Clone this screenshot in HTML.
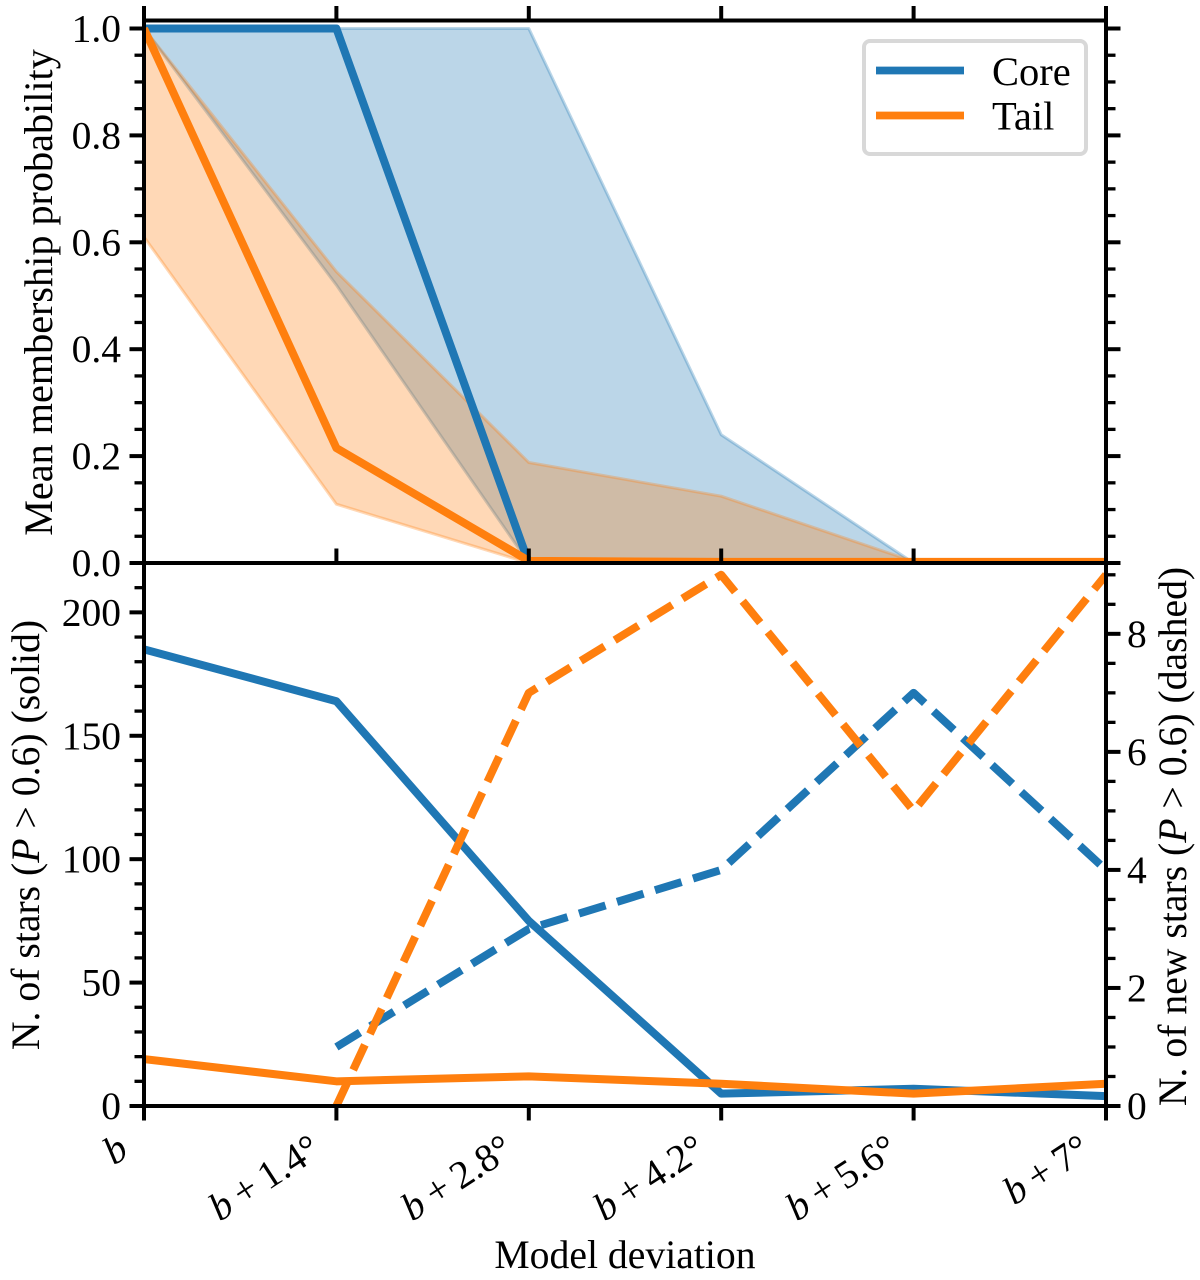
<!DOCTYPE html>
<html lang="en">
<head>
<meta charset="utf-8">
<title>Mean membership probability and number of stars vs model deviation</title>
<style>
  html, body { margin: 0; padding: 0; background: #fff; }
  svg { display: block; font-family: "Liberation Serif", "DejaVu Serif", serif; fill: #000; }
  .tick-label { font-size: 39.5px; }
  .axis-title { font-size: 39.7px; }
  .top-title { font-size: 40.2px; }
  .legend-label { font-size: 40.5px; }
</style>
</head>
<body>
<svg id="chart" xmlns="http://www.w3.org/2000/svg" width="1200" height="1280" viewBox="0 0 1200 1280">
  <defs>
    <clipPath id="clip-top"><rect x="144" y="20.5" width="962" height="542.5"/></clipPath>
    <clipPath id="clip-bottom"><rect x="144" y="563" width="962" height="543"/></clipPath>
  </defs>
  <rect x="0" y="0" width="1200" height="1280" fill="#fff"/>
  <g id="top-marks" clip-path="url(#clip-top)"></g>
  <g id="bottom-marks" clip-path="url(#clip-bottom)"></g>
  <g id="axes"></g>
  <g id="labels"></g>

  <text class="top-title" transform="translate(52 292.5) rotate(-90)" text-anchor="middle">Mean membership probability</text>
  <text class="axis-title" transform="translate(39 835) rotate(-90)" text-anchor="middle">N. of stars (<tspan font-style="italic">P</tspan> &gt; 0.6) (solid)</text>
  <text class="axis-title" transform="translate(1186 836.5) rotate(-90)" text-anchor="middle">N. of new stars (<tspan font-style="italic">P</tspan> &gt; 0.6) (dashed)</text>
  <text class="axis-title" x="625" y="1268" text-anchor="middle">Model deviation</text>

  <g>
    <rect x="864" y="41" width="222" height="113" rx="6" ry="6" fill="#fff" fill-opacity="0.85" stroke="#d8d8d8" stroke-width="4"/>
    <line x1="876" x2="964" y1="70.5" y2="70.5" stroke="#1f77b4" stroke-width="7.8"/>
    <text class="legend-label" x="992" y="85">Core</text>
    <line x1="876" x2="964" y1="115.5" y2="115.5" stroke="#ff7f0e" stroke-width="7.8"/>
    <text class="legend-label" x="992" y="129.5">Tail</text>
  </g>
</svg>
<script>
// ---- data ----
const categories = ['b', 'b+1.4', 'b+2.8', 'b+4.2', 'b+5.6', 'b+7'];
const xTickOffsets = ['', '1.4', '2.8', '4.2', '5.6', '7'];

const coreMean  = [1.0, 1.0, 0.0, 0.0, 0.0, 0.0];
const coreUpper = [1.0, 1.0, 1.0, 0.24, 0.0, 0.0];
const coreLower = [1.0, 0.52, 0.0, 0.0, 0.0, 0.0];
const tailMean  = [1.0, 0.215, 0.004, 0.002, 0.002, 0.002];
const tailUpper = [1.0, 0.545, 0.188, 0.125, 0.003, 0.002];
const tailLower = [0.61, 0.11, 0.0, 0.0, 0.0, 0.0];

const coreStars = [185, 164, 75, 5, 7, 4];
const tailStars = [19, 10, 12, 9, 5, 9];
const coreNewStars = [null, 1, 3, 4, 7, 4];
const tailNewStars = [null, 0, 7, 9, 5, 9];

const topTickLabels = ['0.0', '0.2', '0.4', '0.6', '0.8', '1.0'];
const leftTickLabels = ['0', '50', '100', '150', '200'];
const rightTickLabels = ['0', '2', '4', '6', '8'];

// ---- axis functions ----
const frame = { left: 144, right: 1106, top: 20.5, mid: 563, bottom: 1106 };
const BLUE = '#1f77b4';
const ORANGE = '#ff7f0e';
const SVG_NS = 'http://www.w3.org/2000/svg';

function xAxis(i) { return frame.left + i * (frame.right - frame.left) / (categories.length - 1); }
function yProb(v) { return frame.mid - v * 534.5; }
function yStars(v) { return frame.bottom - v * (frame.bottom - frame.mid) / 220; }
function yNew(v) { return frame.bottom - v * (frame.bottom - frame.mid) / 9.2; }

function make(tag, attrs, parent) {
  const el = document.createElementNS(SVG_NS, tag);
  for (const k in attrs) el.setAttribute(k, attrs[k]);
  parent.appendChild(el);
  return el;
}

function linePoints(values, yScale) {
  const pts = [];
  values.forEach(function (v, i) {
    if (v !== null) pts.push(xAxis(i).toFixed(2) + ',' + yScale(v).toFixed(2));
  });
  return pts.join(' ');
}

function drawBand(upper, lower, color, name) {
  const top = [];
  const bottom = [];
  upper.forEach(function (v, i) { top.push(xAxis(i).toFixed(2) + ',' + yProb(v).toFixed(2)); });
  lower.forEach(function (v, i) { bottom.unshift(xAxis(i).toFixed(2) + ',' + yProb(v).toFixed(2)); });
  const el = make('polygon', {
    points: top.concat(bottom).join(' '),
    fill: color, 'fill-opacity': 0.3,
    stroke: color, 'stroke-opacity': 0.3, 'stroke-width': 3, 'stroke-linejoin': 'round'
  }, document.getElementById('top-marks'));
  
  
}

function drawSeries(parentId, values, yScale, color, name, dashed) {
  const attrs = {
    points: linePoints(values, yScale),
    fill: 'none', stroke: color, 'stroke-width': 8, 'stroke-linejoin': 'round'
  };
  if (dashed) attrs['stroke-dasharray'] = '27.75 12';
  const el = make('polyline', attrs, document.getElementById(parentId));
  
  
}

function seg(parent, x1, y1, x2, y2, w, name) {
  const el = make('line', { x1: x1, y1: y1, x2: x2, y2: y2, stroke: '#000', 'stroke-width': w }, parent);
  
  
}

function tickText(x, y, anchor, text, name) {
  const el = make('text', { x: x, y: y, 'text-anchor': anchor, 'class': 'tick-label' }, document.getElementById('labels'));
  el.textContent = text;
  
  
}

// ---- marks ----
drawBand(coreUpper, coreLower, BLUE, 'core-probability-band');
drawBand(tailUpper, tailLower, ORANGE, 'tail-probability-band');
drawSeries('top-marks', coreMean, yProb, BLUE, 'core-mean-probability-line', false);
drawSeries('top-marks', tailMean, yProb, ORANGE, 'tail-mean-probability-line', false);
drawSeries('bottom-marks', coreStars, yStars, BLUE, 'core-star-count-line', false);
drawSeries('bottom-marks', tailStars, yStars, ORANGE, 'tail-star-count-line', false);
drawSeries('bottom-marks', coreNewStars, yNew, BLUE, 'core-new-star-count-line', true);
drawSeries('bottom-marks', tailNewStars, yNew, ORANGE, 'tail-new-star-count-line', true);

// ---- spines and ticks ----
const axesGroup = document.getElementById('axes');
const MAJOR = 14.5, MINOR = 9.5, MAJOR_W = 4, MINOR_W = 3.3;

seg(axesGroup, frame.left, frame.top - 14.5, frame.left, frame.bottom + 14.5, 4, 'left-spine');
seg(axesGroup, frame.right, frame.top - 14.5, frame.right, frame.bottom + 14.5, 4, 'right-spine');
seg(axesGroup, frame.left, frame.top, frame.right, frame.top, 4, 'top-spine');
seg(axesGroup, frame.left, frame.mid, frame.right, frame.mid, 4, 'middle-spine');
seg(axesGroup, frame.left, frame.bottom, frame.right, frame.bottom, 4, 'bottom-spine');

categories.forEach(function (c, i) {
  const x = xAxis(i);
  seg(axesGroup, x, frame.top - 14.5, x, frame.top, MAJOR_W, 'x-tick-top');
  seg(axesGroup, x, frame.mid - 14.5, x, frame.mid, MAJOR_W, 'x-tick-middle');
  seg(axesGroup, x, frame.bottom, x, frame.bottom + 14.5, MAJOR_W, 'x-tick-bottom');
});

for (let n = 0; n <= 20; n++) {
  const y = yProb(n * 0.05);
  const major = n % 4 === 0;
  const len = major ? MAJOR : MINOR;
  const w = major ? MAJOR_W : MINOR_W;
  seg(axesGroup, frame.left - len, y, frame.left, y, w, 'top-left-y-tick');
  seg(axesGroup, frame.right, y, frame.right + len, y, w, 'top-right-y-tick');
}
for (let n = 0; n <= 22; n++) {
  const y = yStars(n * 10);
  const major = n % 5 === 0;
  seg(axesGroup, frame.left - (major ? MAJOR : MINOR), y, frame.left, y, major ? MAJOR_W : MINOR_W, 'bottom-left-y-tick');
}
for (let n = 0; n <= 18; n++) {
  const y = yNew(n * 0.5);
  const major = n % 4 === 0;
  seg(axesGroup, frame.right, y, frame.right + (major ? MAJOR : MINOR), y, major ? MAJOR_W : MINOR_W, 'bottom-right-y-tick');
}

// ---- tick labels ----
topTickLabels.forEach(function (t) {
  tickText(121, yProb(parseFloat(t)) + 13, 'end', t, 'top-y-tick-label');
});
leftTickLabels.forEach(function (t) {
  tickText(121, yStars(parseFloat(t)) + 13, 'end', t, 'bottom-left-y-tick-label');
});
rightTickLabels.forEach(function (t) {
  tickText(1127, yNew(parseFloat(t)) + 13, 'start', t, 'bottom-right-y-tick-label');
});

xTickOffsets.forEach(function (offset, i) {
  const ax = xAxis(i) - 13.5;
  const ay = 1155;
  const el = make('text', { transform: 'translate(' + ax + ' ' + ay + ') rotate(-33)', 'text-anchor': 'end', 'class': 'tick-label' }, document.getElementById('labels'));
  
  
  const b = make('tspan', { 'font-style': 'italic' }, el);
  b.textContent = 'b';
  if (offset !== '') {
    const rest = make('tspan', {}, el);
    rest.textContent = '\u2009+\u2009' + offset + '\u00B0';
  }
});
</script>
</body>
</html>
